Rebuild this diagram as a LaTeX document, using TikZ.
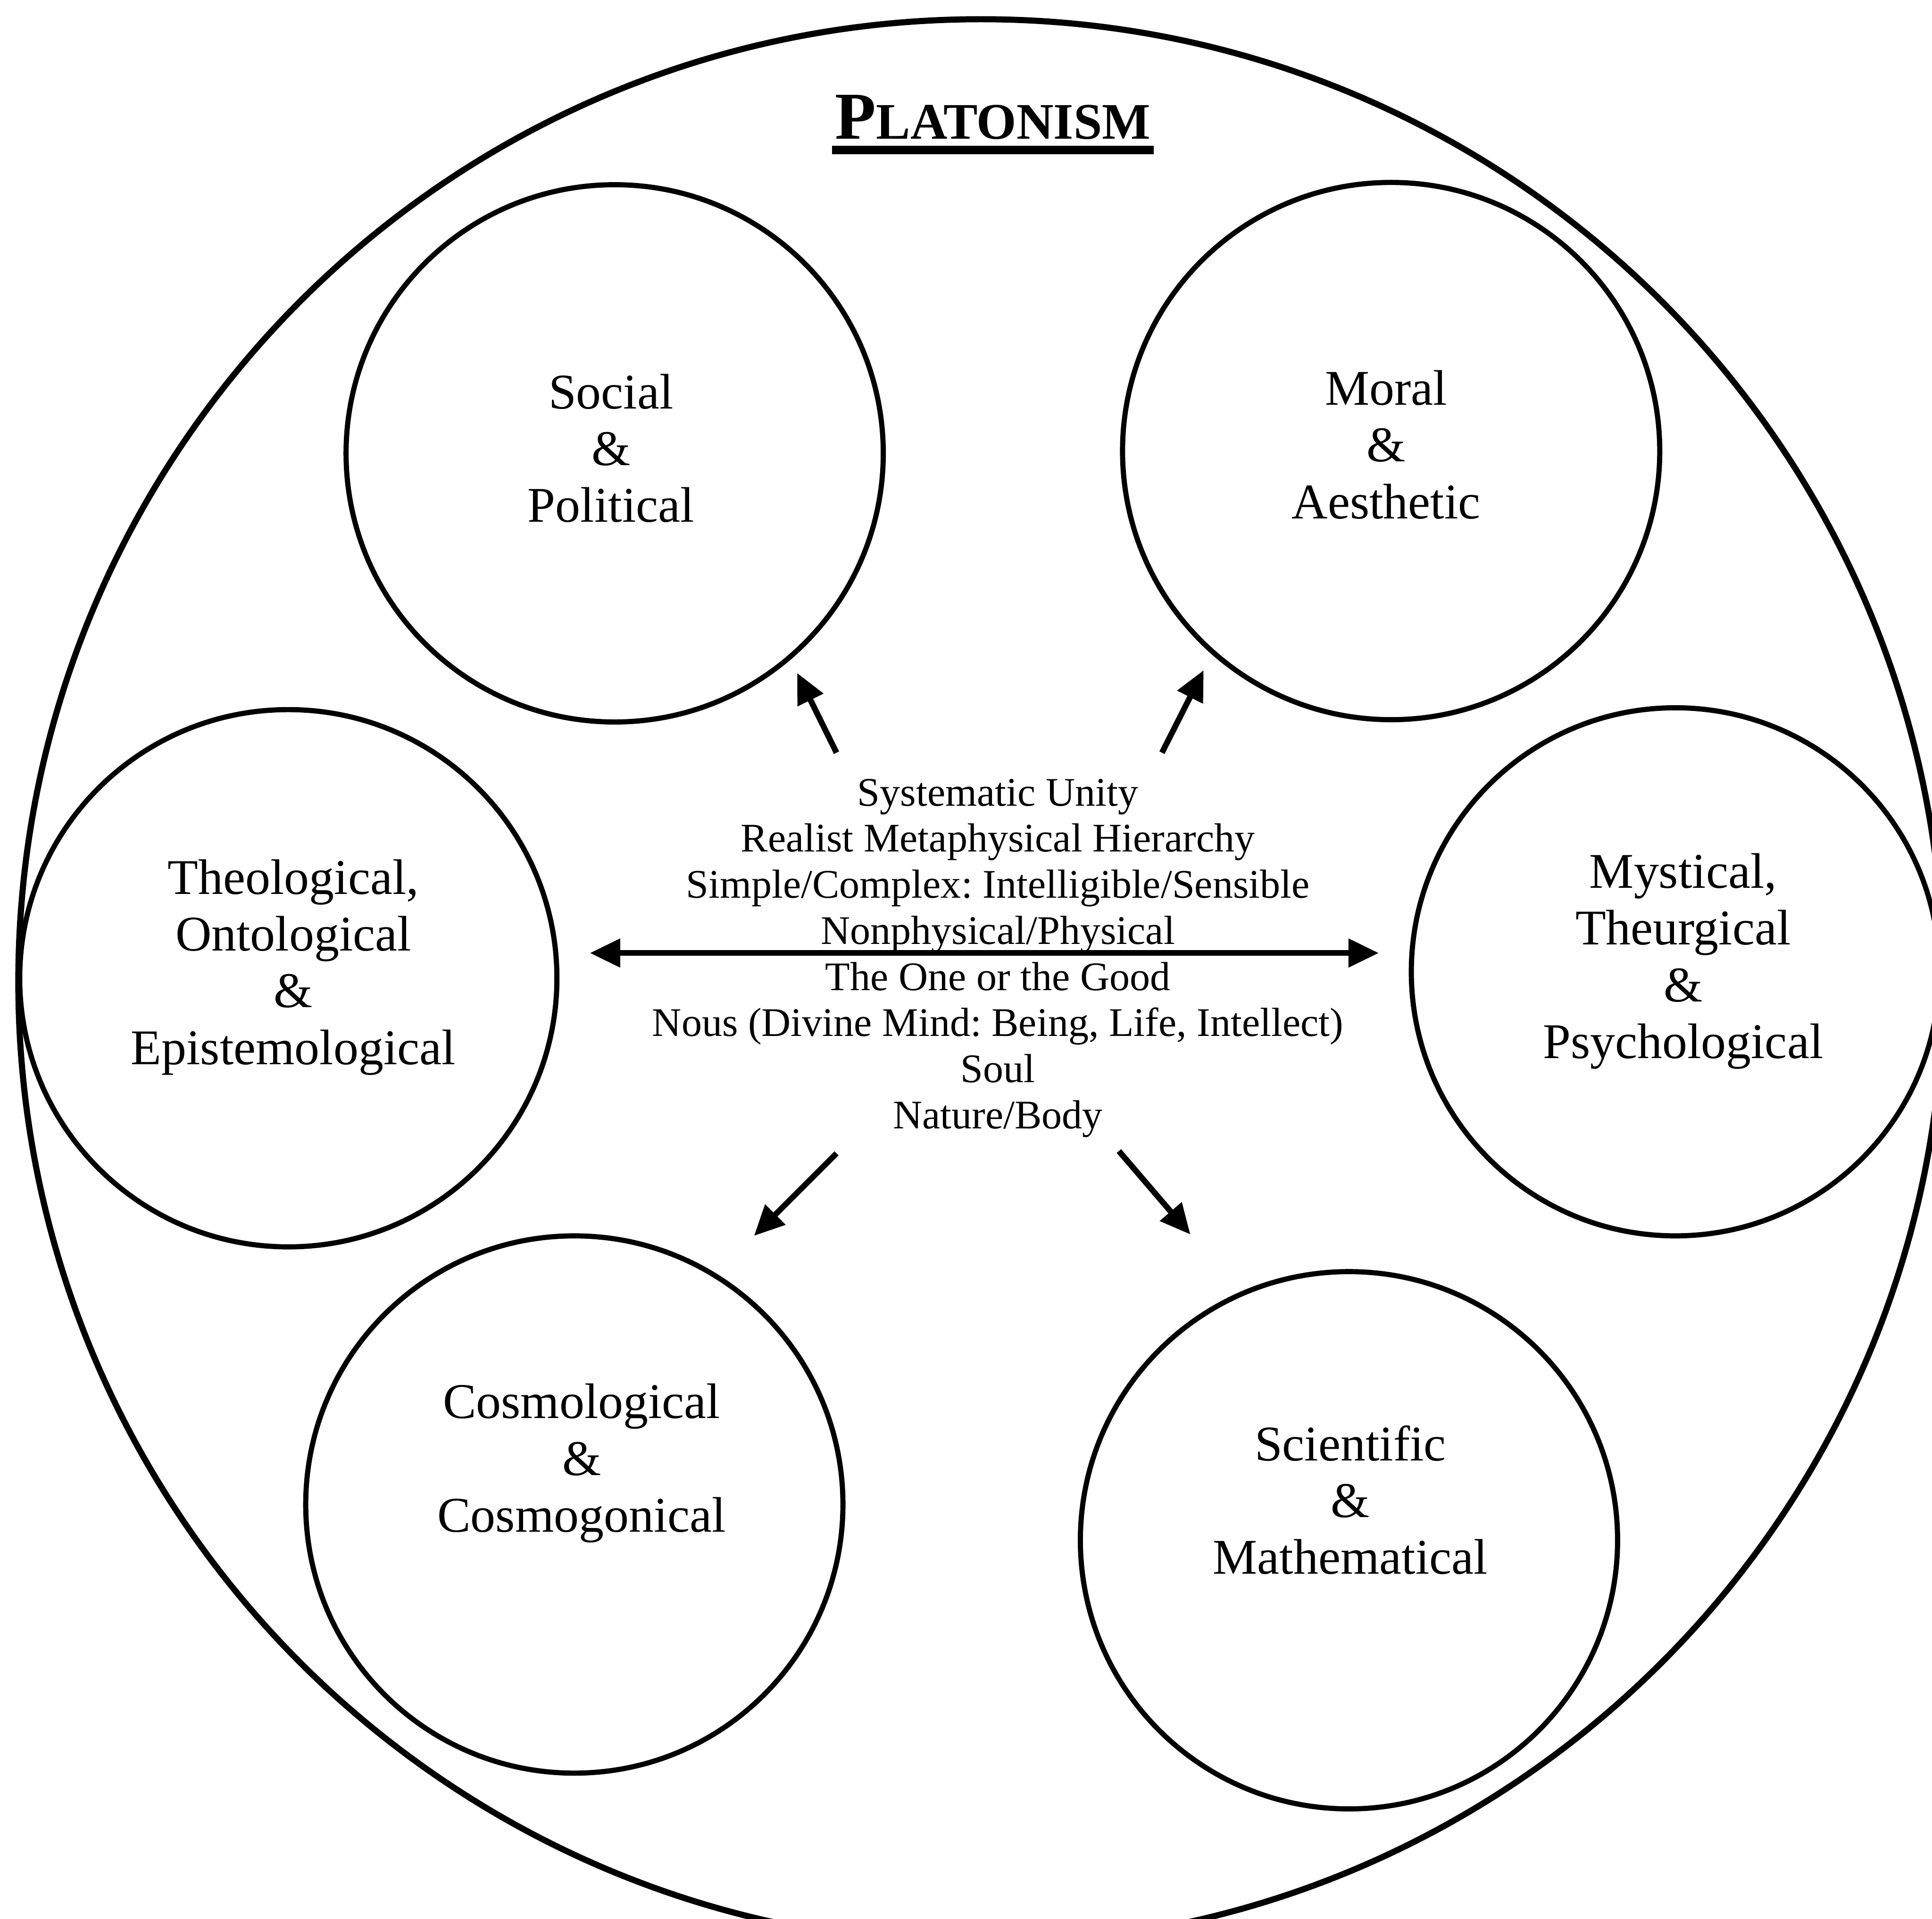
\documentclass[tikz,border=0pt]{standalone}
\usepackage{fontspec}
\setmainfont{Liberation Serif}
\usepackage{tikz}
\usetikzlibrary{arrows.meta,calc,positioning}
\frenchspacing
\definecolor{Ink}{HTML}{000000}
\tikzset{
  realm/.style={circle,draw=Ink,line width=1.6pt,minimum size=5.86cm,inner sep=0pt},
  realmtext/.style={align=center,text=Ink,inner sep=0pt,font=\fontsize{15.5}{17.6}\selectfont},
  coretext/.style={align=center,text=Ink,inner sep=0pt,font=\fontsize{12.6}{14.3}\selectfont},
  flowarrow/.style={-{Triangle[length=3.3mm,width=3mm]},line width=1.8pt,draw=Ink},
  bothflow/.style={{Triangle[length=3.3mm,width=3mm]}-{Triangle[length=3.3mm,width=3mm]},line width=1.8pt,draw=Ink},
}

\begin{document}
\begin{tikzpicture}[x=1cm,y=1cm]
    \useasboundingbox (0,0) rectangle (21.075,20.93);
    \clip (0,0) rectangle (21.075,20.93);

    \node[circle,draw=Ink,line width=1.9pt,minimum size=21cm,inner sep=0pt] (whole) at (10.70,10.22) {};

    \node[font=\bfseries,text=Ink,anchor=base,inner sep=0pt] (title) at (10.83,19.415)
      {{\fontsize{20.8}{24}\selectfont P}{\fontsize{15.9}{19}\selectfont LATONISM}};
    \draw[Ink,line width=2.6pt] ([xshift=-0.03cm,yshift=-0.12cm]title.base west) -- ([xshift=0.03cm,yshift=-0.12cm]title.base east);

    \node[realm] (social) at (6.705,15.985) {};
    \node[realm] (moral) at (15.175,16.01) {};
    \node[realm] (theo) at (3.145,10.26) {};
    \node[realm,minimum size=5.76cm] (mystic) at (18.275,10.33) {};
    \node[realm] (cosmo) at (6.265,4.52) {};
    \node[realm] (science) at (14.715,4.13) {};

    \node[realmtext] (social-txt) at (6.665,16.04) {Social\\\&\\Political};
    \node[realmtext] (moral-txt) at (15.12,16.08) {Moral\\\&\\Aesthetic};
    \node[realmtext] (theo-txt) at (3.20,10.38) {Theological,\\Ontological\\\&\\Epistemological};
    \node[realmtext] (mystic-txt) at (18.36,10.445) {Mystical,\\Theurgical\\\&\\Psychological};
    \node[realmtext] (cosmo-txt) at (6.345,4.97) {Cosmological\\\&\\Cosmogonical};
    \node[realmtext] (science-txt) at (14.73,4.57) {Scientific\\\&\\Mathematical};

    \node[coretext] (core) at (10.885,10.48)
      {Systematic Unity\\Realist Metaphysical Hierarchy\\Simple/Complex: Intelligible/Sensible\\Nonphysical/Physical\\The One or the Good\\Nous (Divine Mind: Being, Life, Intellect)\\Soul\\Nature/Body};

    \coordinate (west-end) at (6.435,10.535);
    \coordinate (east-end) at (15.04,10.535);
    \coordinate (ul-tail) at (9.125,12.72);
    \coordinate (ul-tip) at (8.695,13.59);
    \coordinate (ur-tail) at (12.675,12.72);
    \coordinate (ur-tip) at (13.13,13.62);
    \coordinate (ll-tail) at (9.125,8.35);
    \coordinate (ll-tip) at (8.225,7.45);
    \coordinate (lr-tail) at (12.205,8.375);
    \coordinate (lr-tip) at (12.985,7.465);

    \draw[bothflow] (west-end) -- (east-end);
    \draw[flowarrow] (ul-tail) -- (ul-tip);
    \draw[flowarrow] (ur-tail) -- (ur-tip);
    \draw[flowarrow] (ll-tail) -- (ll-tip);
    \draw[flowarrow] (lr-tail) -- (lr-tip);
  \end{tikzpicture}
\end{document}
